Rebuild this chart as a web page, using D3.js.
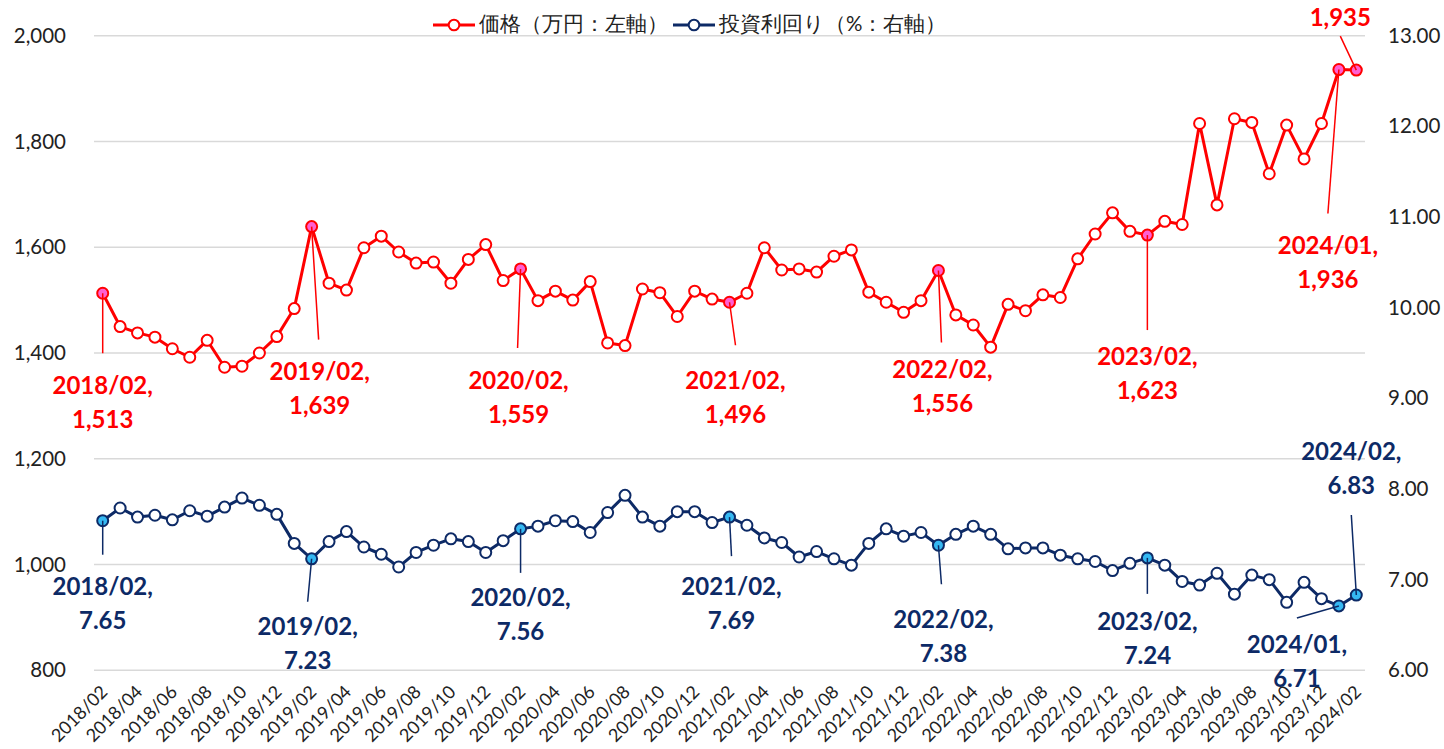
<!DOCTYPE html>
<html>
<head>
<meta charset="utf-8">
<script src="https://cdn.jsdelivr.net/npm/d3@7"></script>
<style>
body { margin: 0; background: #fff; }
text { font-family: Lato, "Noto Sans", sans-serif; }
</style>
</head>
<body>
<div id="chart"></div>
<script>
// months 2018/02 .. 2024/02
var months = d3.timeMonth.range(new Date(2018, 1, 1), new Date(2024, 2, 1)).map(d3.timeFormat("%Y/%m"));

// 価格（万円）
var price = [1513, 1450, 1438, 1430, 1408, 1392, 1424, 1373, 1375, 1400, 1431, 1484,
    1639, 1532, 1519, 1599, 1621, 1591, 1570, 1572, 1532, 1577, 1605, 1537,
    1559, 1499, 1517, 1500, 1535, 1419, 1414, 1521, 1514, 1469, 1517, 1502,
    1496, 1513, 1599, 1557, 1559, 1553, 1583, 1595, 1515, 1496, 1477, 1499,
    1556, 1472, 1453, 1411, 1492, 1480, 1510, 1505, 1578, 1625, 1665, 1630,
    1623, 1649, 1643, 1834, 1680, 1843, 1836, 1739, 1831, 1767, 1834, 1936,
    1935];

// 投資利回り（%）
var yieldPct = [7.65, 7.79, 7.69, 7.71, 7.66, 7.76, 7.70, 7.80, 7.90, 7.82, 7.72, 7.40,
    7.23, 7.42, 7.53, 7.36, 7.28, 7.14, 7.30, 7.38, 7.45, 7.42, 7.30, 7.43,
    7.56, 7.59, 7.65, 7.64, 7.52, 7.74, 7.93, 7.69, 7.59, 7.75, 7.75, 7.63,
    7.69, 7.60, 7.46, 7.41, 7.25, 7.31, 7.23, 7.16, 7.40, 7.56, 7.48, 7.52,
    7.38, 7.50, 7.59, 7.50, 7.34, 7.35, 7.35, 7.27, 7.23, 7.20, 7.10, 7.18,
    7.24, 7.16, 6.98, 6.94, 7.07, 6.84, 7.05, 7.00, 6.75, 6.97, 6.79, 6.71,
    6.83];

var priceTicks = [800, 1000, 1200, 1400, 1600, 1800, 2000];
var yieldTicks = [6, 7, 8, 9, 10, 11, 12, 13];
var legendNames = ["価格（万円：左軸）", "投資利回り（%：右軸）"];

// highlighted points (every February + 2024/01)
var noteIdx = [0, 12, 24, 36, 48, 60, 71, 72];

// label placement relative to the point: leader end (lx, ly), text baseline (tx, ty)
var priceNotes = [
    { i: 0, lx: 0, ly: 60, tx: 0, ty: 101, date: true },
    { i: 12, lx: 7, ly: 113, tx: 8, ty: 153, date: true },
    { i: 24, lx: -3, ly: 79, tx: -2, ty: 120, date: true },
    { i: 36, lx: 6, ly: 43, tx: 6, ty: 87, date: true },
    { i: 48, lx: 3, ly: 72, tx: 4, ty: 107, date: true },
    { i: 60, lx: 0, ly: 95, tx: 0, ty: 130, date: true },
    { i: 71, lx: -11, ly: 144, tx: -11, ty: 184, date: true },
    { i: 72, lx: -16, ly: -34, tx: -16, ty: -44, date: false }
];
var yieldNotes = [
    { i: 0, lx: 0, ly: 34, tx: 0, ty: 74 },
    { i: 12, lx: -4, ly: 43, tx: -4, ty: 76 },
    { i: 24, lx: 0, ly: 44, tx: 0, ty: 77 },
    { i: 36, lx: 2, ly: 39, tx: 2, ty: 78 },
    { i: 48, lx: 3, ly: 39, tx: 5, ty: 83 },
    { i: 60, lx: 0, ly: 36, tx: 0, ty: 72 },
    { i: 71, lx: -42, ly: 12, tx: -42, ty: 47 },
    { i: 72, lx: -5, ly: -80, tx: -5, ty: -135 }
];

var width = 1444, height = 749;
var red = "#ff0000", navy = "#0d2a66";
var redFill = "#ff5fd2", blueFill = "#35b8f2";

var svg = d3.select("#chart").append("svg")
    .attr("width", width)
    .attr("height", height);

var x = d3.scalePoint().domain(d3.range(months.length)).range([94, 1365]).padding(0.5);
var yL = d3.scaleLinear().domain([800, 2000]).range([670.3, 35.7]);
var yR = d3.scaleLinear().domain([6, 13]).range([670.3, 35.7]);

// gridlines
svg.append("g").selectAll("line").data(priceTicks).enter().append("line")
    .attr("x1", 94).attr("x2", 1365)
    .attr("y1", function (d) { return yL(d); })
    .attr("y2", function (d) { return yL(d); })
    .attr("stroke", "#d9d9d9").attr("stroke-width", 1.5);

// left axis
var axisL = d3.axisLeft(yL).tickValues(priceTicks).tickFormat(d3.format(",")).tickSize(0).tickPadding(0);
svg.append("g").attr("transform", "translate(66,0)").call(axisL)
    .call(function (g) { g.select(".domain").remove(); })
    .selectAll("text").attr("font-size", 20.5).attr("fill", "#222").attr("font-family", "Lato");

// right axis
var axisR = d3.axisRight(yR).tickValues(yieldTicks).tickFormat(d3.format(".2f")).tickSize(0).tickPadding(0);
svg.append("g").attr("transform", "translate(1388,0)").call(axisR)
    .call(function (g) { g.select(".domain").remove(); })
    .selectAll("text").attr("font-size", 20.5).attr("fill", "#222").attr("font-family", "Lato");

// x labels, every other month
svg.append("g").selectAll("text")
    .data(d3.range(months.length).filter(function (i) { return i % 2 === 0; }))
    .enter().append("text")
    .attr("transform", function (i) { return "translate(" + (x(i) + 6) + ",693) rotate(-45)"; })
    .attr("text-anchor", "end")
    .attr("font-size", 18)
    .attr("fill", "#222")
    .text(function (i) { return months[i]; });

function drawSeries(values, ys, color, fill, notes, fmt, withDate) {
    var line = d3.line()
        .x(function (d, i) { return x(i); })
        .y(function (d) { return ys(d); });

    svg.append("path").datum(values)
        .attr("d", line)
        .attr("fill", "none")
        .attr("stroke", color)
        .attr("stroke-width", 3)
        .attr("stroke-linejoin", "round");

    svg.append("g").selectAll("circle").data(values).enter().append("circle")
        .attr("cx", function (d, i) { return x(i); })
        .attr("cy", function (d) { return ys(d); })
        .attr("r", 5.5)
        .attr("fill", function (d, i) { return noteIdx.indexOf(i) >= 0 ? fill : "#fff"; })
        .attr("stroke", color)
        .attr("stroke-width", 2);

    var g = svg.append("g").selectAll("g").data(notes).enter().append("g");
    g.append("line")
        .attr("x1", function (d) { return x(d.i); })
        .attr("y1", function (d) { return ys(values[d.i]); })
        .attr("x2", function (d) { return x(d.i) + d.lx; })
        .attr("y2", function (d) { return ys(values[d.i]) + d.ly; })
        .attr("stroke", color)
        .attr("stroke-width", 1.5);
    var t = g.append("text")
        .attr("text-anchor", "middle")
        .attr("font-size", 24)
        .attr("font-weight", "bold")
        .attr("fill", color);
    t.each(function (d) {
        var px = x(d.i) + d.tx, py = ys(values[d.i]) + d.ty;
        var el = d3.select(this);
        var showDate = withDate ? d.date : true;
        if (showDate) {
            el.append("tspan").attr("x", px).attr("y", py).text(months[d.i] + ",");
            el.append("tspan").attr("x", px).attr("y", py + 34).text(fmt(values[d.i]));
        } else {
            el.append("tspan").attr("x", px).attr("y", py).text(fmt(values[d.i]));
        }
    });
}

drawSeries(price, yL, red, redFill, priceNotes, d3.format(","), true);
drawSeries(yieldPct, yR, navy, blueFill, yieldNotes, d3.format(".2f"), false);

// legend
var legend = svg.append("g");
var legendItems = [
    { name: legendNames[0], color: red, x0: 433 },
    { name: legendNames[1], color: navy, x0: 673 }
];
legendItems.forEach(function (d) {
    legend.append("line")
        .attr("x1", d.x0).attr("x2", d.x0 + 42)
        .attr("y1", 25).attr("y2", 25)
        .attr("stroke", d.color).attr("stroke-width", 3);
    legend.append("circle")
        .attr("cx", d.x0 + 21).attr("cy", 25).attr("r", 5.3)
        .attr("fill", "#fff").attr("stroke", d.color).attr("stroke-width", 2);
    legend.append("text")
        .attr("x", d.x0 + 46).attr("y", 23)
        .attr("dominant-baseline", "central")
        .attr("font-family", "'Noto Sans CJK JP'")
        .attr("font-size", 20.5)
        .attr("fill", "#222")
        .text(d.name);
});
</script>
</body>
</html>
